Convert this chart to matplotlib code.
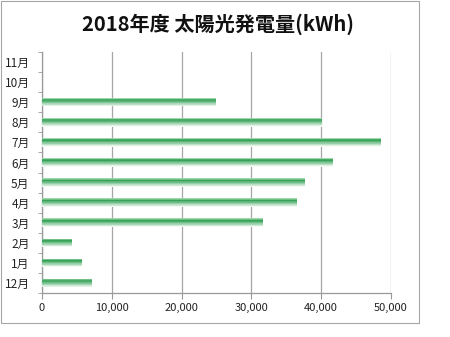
import numpy as np
import matplotlib
matplotlib.use("Agg")
import matplotlib.pyplot as plt
from matplotlib.patches import Rectangle
from matplotlib.ticker import FuncFormatter, FixedLocator
from matplotlib.colors import to_rgb

plt.rcParams['font.family'] = ['Noto Sans CJK JP', 'DejaVu Sans']

# データ (12月〜11月)
months = ['12月', '1月', '2月', '3月', '4月', '5月', '6月', '7月', '8月', '9月', '10月', '11月']
kwh = [7150, 5700, 4250, 31650, 36500, 37700, 41650, 48550, 40100, 24950, 0, 0]

fig = plt.figure(figsize=(4.5, 3.37), dpi=100)
W, H = 450, 337

# チャート枠
fig.patches.append(Rectangle((1 / W, 1 - 323 / H), 418 / W, 322 / H,
                             transform=fig.transFigure, fill=False,
                             edgecolor='#a6a6a6', linewidth=0.8))

ax = fig.add_axes([42 / W, 1 - 293 / H, (391 - 42) / W, (293 - 52) / H])

y = np.arange(len(months))
bh = 0.42
# グラデーション: 上端は明るい緑→濃い緑→下へ白っぽく
n = 14
top = np.array(to_rgb('#9bd7a8'))
dark = np.array(to_rgb('#2f9f52'))
light = np.array(to_rgb('#f4faf5'))
for k in range(n):
    t = k / (n - 1)
    if t < 0.2:
        c = top + (dark - top) * (t / 0.2)
    else:
        c = dark + (light - dark) * ((t - 0.2) / 0.8)
    ax.barh(y + bh / 2 - (k + 0.5) * bh / n, kwh, height=bh / n,
            color=c, linewidth=0, zorder=3)

ax.set_xlim(0, 50000)
ax.set_ylim(-0.5, len(months) - 0.5)
ax.xaxis.set_major_locator(FixedLocator(np.arange(0, 50001, 10000)))
ax.xaxis.set_major_formatter(FuncFormatter(lambda v, p: f'{int(v):,}'))
ax.set_yticks(y)
ax.set_yticklabels(months)
ax.set_yticks(np.arange(-0.5, len(months), 1), minor=True)
ax.tick_params(axis='y', which='major', length=0, labelsize=8.5, pad=9, colors='#222222')
ax.tick_params(axis='y', which='minor', length=3, color='#999999')
ax.tick_params(axis='x', length=4, labelsize=8, color='#999999', colors='#222222', pad=3)
ax.tick_params(axis='x', which='major', colors='#999999', labelcolor='#222222')

ax.grid(axis='x', color='#a6a6a6', linewidth=0.9, zorder=0)
for s in ['top', 'right']:
    ax.spines[s].set_visible(False)
for s in ['left', 'bottom']:
    ax.spines[s].set_color('#999999')
    ax.spines[s].set_linewidth(0.9)

fig.text(218 / W, 1 - 24 / H, '2018年度 太陽光発電量(kWh)', ha='center', va='center',
         fontsize=14.5, fontweight='bold', color='#111111')

fig.savefig('out.png', dpi=100)
